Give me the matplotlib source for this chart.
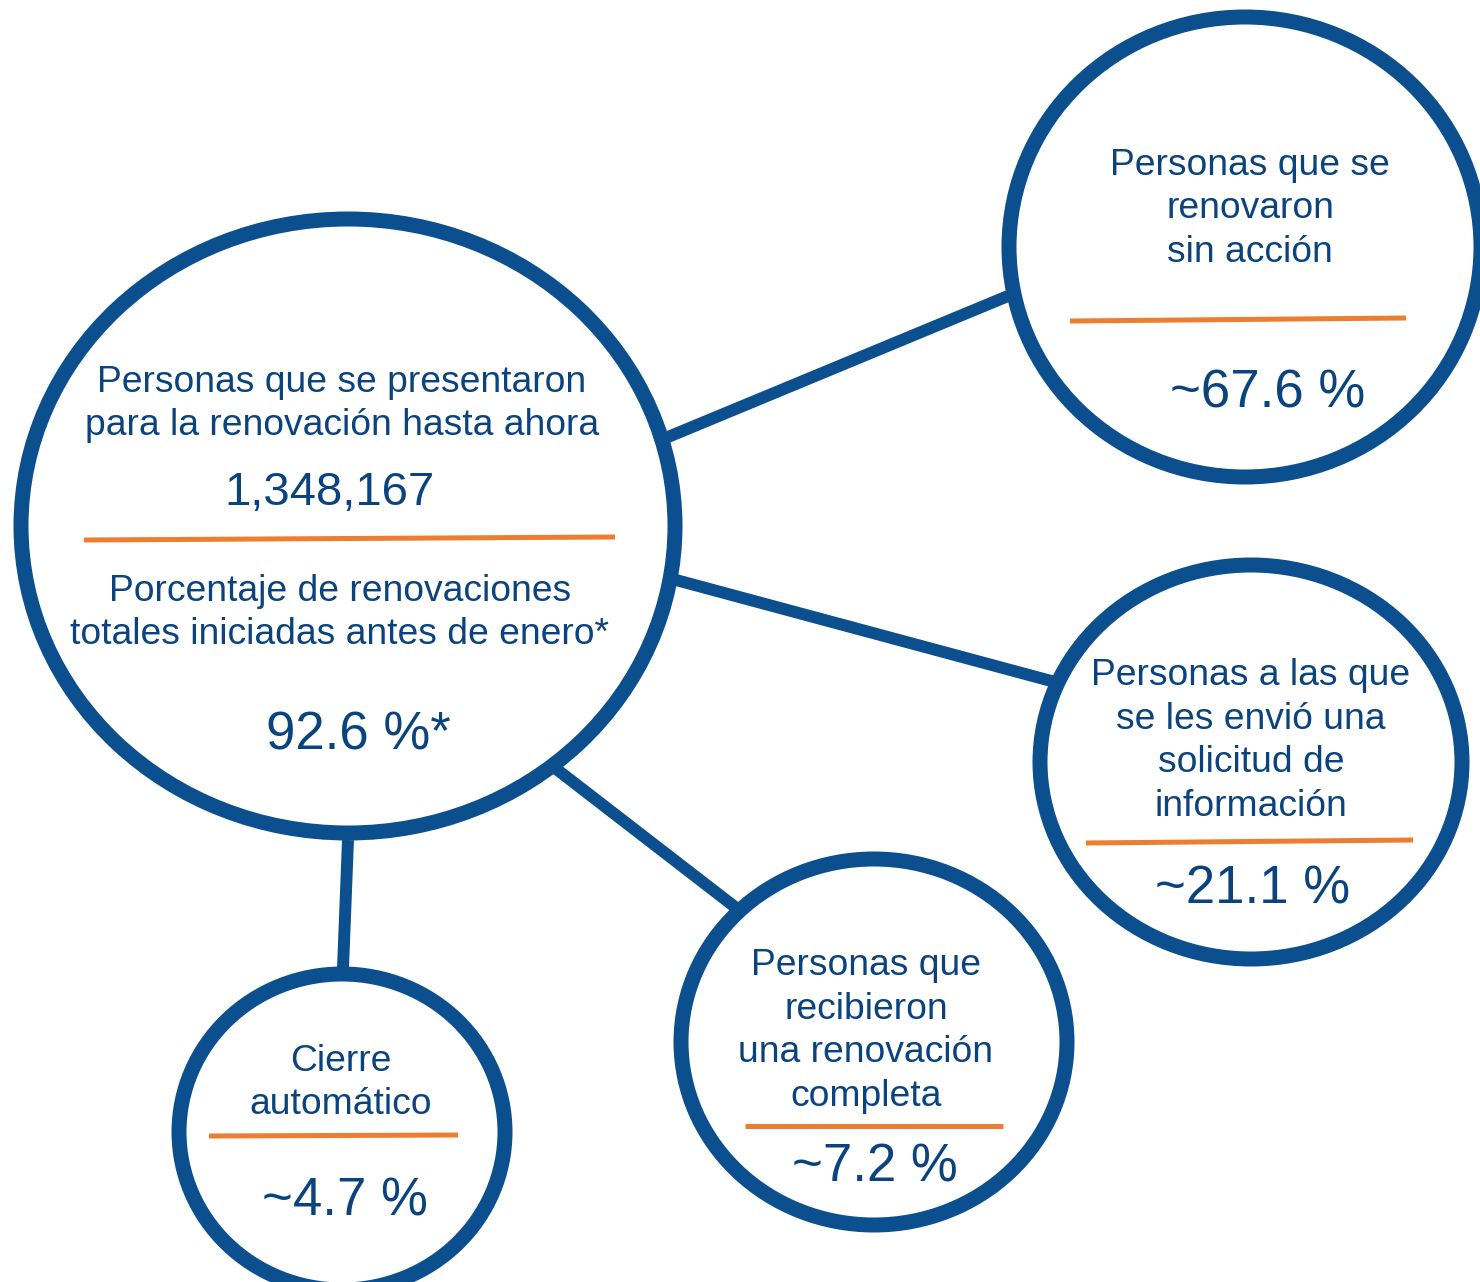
import matplotlib
matplotlib.use("Agg")
import matplotlib.pyplot as plt
from matplotlib.patches import Ellipse

plt.rcParams["font.family"] = ["Liberation Sans", "DejaVu Sans"]

# content of each bubble
titles = [
    "Personas que se presentaron\npara la renovación hasta ahora",
    "Personas que se\nrenovaron\nsin acción",
    "Personas a las que\nse les envió una\nsolicitud de\ninformación",
    "Personas que\nrecibieron\nuna renovación\ncompleta",
    "Cierre\nautomático",
]
values = ["1,348,167", "~67.6 %", "~21.1 %", "~7.2 %", "~4.7 %"]
sub_title = "Porcentaje de renovaciones\ntotales iniciadas antes de enero*"
sub_value = "92.6 %*"

# layout in pixels (x, y from top-left)
centers = [(348, 526), (1245, 247), (1251, 762), (874, 1042), (342, 1132)]
radii = [(327, 307), (236, 230), (211, 197), (193, 183), (163, 158)]
title_xy = [(342, 404), (1250, 209), (1251, 741), (866, 1031), (341, 1083)]
value_xy = [(330, 493), (1268, 394), (1253, 890), (875, 1167), (345, 1202)]
dividers = [((84, 540), (615, 537)), ((1070, 321), (1406, 318)),
            ((1086, 843), (1413, 840)), ((745, 1126), (1003, 1126)),
            ((209, 1136), (458, 1135))]
links = [((668, 437), (1008, 296)), ((676, 580), (1055, 682)),
         ((555, 768), (735, 907)), ((348, 840), (343, 968))]

BLUE = "#0b4f8e"
ORANGE = "#ed7d31"
TXT = "#0b437f"

fig = plt.figure(figsize=(14.8, 12.82), dpi=100)
ax = fig.add_axes([0, 0, 1, 1])
ax.set_xlim(0, 1480)
ax.set_ylim(1282, 0)
ax.axis("off")

for (p0, p1) in links:
    ax.plot([p0[0], p1[0]], [p0[1], p1[1]], color=BLUE, lw=8.6,
            solid_capstyle="butt", zorder=1)

for (cx, cy), (rx, ry) in zip(centers, radii):
    ax.add_patch(Ellipse((cx, cy), 2 * rx, 2 * ry, facecolor="white",
                         edgecolor=BLUE, lw=10.8, zorder=2))

for (p0, p1) in dividers:
    ax.plot([p0[0], p1[0]], [p0[1], p1[1]], color=ORANGE, lw=3.6,
            solid_capstyle="butt", zorder=3)

for i, t in enumerate(titles):
    ax.text(title_xy[i][0], title_xy[i][1], t, ha="center", va="center",
            fontsize=26.8, color=TXT, linespacing=1.33, zorder=4)
    big = 34 if i == 0 else 38
    ax.text(value_xy[i][0], value_xy[i][1], values[i], ha="center",
            va="center", fontsize=big, color=TXT, zorder=4)

ax.text(340, 613, sub_title, ha="center", va="center", fontsize=26.8,
        color=TXT, linespacing=1.33, zorder=4)
ax.text(358, 736, sub_value, ha="center", va="center", fontsize=38,
        color=TXT, zorder=4)

fig.savefig("out.png", dpi=100)
plt.close()
